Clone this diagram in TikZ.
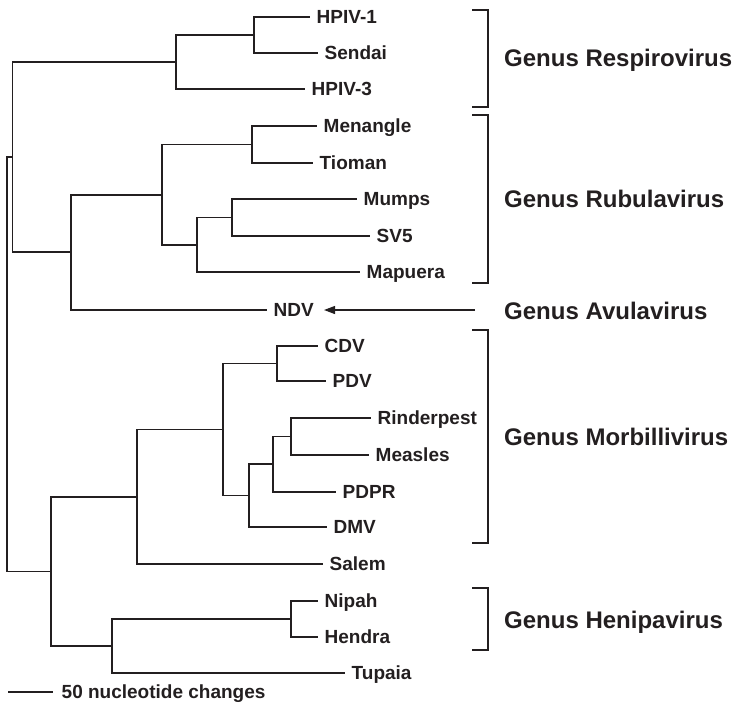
\documentclass[tikz,border=0pt]{standalone}
\usepackage{fontspec}
\setmainfont{Liberation Sans}
\usetikzlibrary{arrows.meta}
\definecolor{ink}{HTML}{231F20}
\begin{document}
\begin{tikzpicture}[x=1pt,y=-1pt,
  branch/.style={draw=ink,line width=1.2pt},
  clade/.style={draw=ink,line width=2pt},
  leaf/.style={anchor=west,inner xsep=6.5pt,inner ysep=0pt,
    text height=13.6pt,text depth=0pt,text=ink,
    font=\fontsize{19}{22}\selectfont\bfseries},
  genus/.style={anchor=west,inner sep=0pt,
    text height=17.2pt,text depth=0pt,text=ink,
    font=\fontsize{24}{28}\selectfont\bfseries},
]
\useasboundingbox (0,0) rectangle (736,705);

% ---- leaves (placed at the end of their branch) ----
\node[leaf] (hpiv1)   at (310,17)  {HPIV-1};
\node[leaf] (sendai)  at (318,53)  {Sendai};
\node[leaf] (hpiv3)   at (305,89)  {HPIV-3};
\node[leaf] (menang)  at (317,126) {Menangle};
\node[leaf] (tioman)  at (313,163) {Tioman};
\node[leaf] (mumps)   at (357,199) {Mumps};
\node[leaf] (sv5)     at (370,236) {SV5};
\node[leaf] (mapuera) at (360,272) {Mapuera};
\node[leaf] (ndv)     at (267,310) {NDV};
\node[leaf] (cdv)     at (318,346) {CDV};
\node[leaf] (pdv)     at (326,381) {PDV};
\node[leaf] (rinder)  at (371,418) {Rinderpest};
\node[leaf] (measles) at (369,455) {Measles};
\node[leaf] (pdpr)    at (336,492) {PDPR};
\node[leaf] (dmv)     at (327,527) {DMV};
\node[leaf] (salem)   at (323,564) {Salem};
\node[leaf] (nipah)   at (318,601) {Nipah};
\node[leaf] (hendra)  at (318,637) {Hendra};
\node[leaf] (tupaia)  at (345,673) {Tupaia};

% ---- internal nodes ----
\coordinate (hs)    at (254,35);
\coordinate (resp)  at (176,62);
\coordinate (mt)    at (252,144.5);
\coordinate (ms)    at (232,217.5);
\coordinate (msm)   at (197,245);
\coordinate (rub)   at (162,195);
\coordinate (rubn)  at (71,252);
\coordinate (upper) at (12.7,157);
\coordinate (cp)    at (277,363.5);
\coordinate (rm)    at (291,436.5);
\coordinate (rmp)   at (273,464);
\coordinate (rmpd)  at (249,495.5);
\coordinate (morb)  at (223,429.5);
\coordinate (morbs) at (137,497);
\coordinate (nh)    at (291,619);
\coordinate (nht)   at (112,646);
\coordinate (lower) at (51,571.5);
\coordinate (root)  at (7,364);

% ---- branches ----
\draw[branch] (hs) |- (hpiv1.west);
\draw[branch] (hs) |- (sendai.west);
\draw[branch] (resp) |- (hs);
\draw[branch] (resp) |- (hpiv3.west);
\draw[branch] (mt) |- (menang.west);
\draw[branch] (mt) |- (tioman.west);
\draw[branch] (ms) |- (mumps.west);
\draw[branch] (ms) |- (sv5.west);
\draw[branch] (msm) |- (ms);
\draw[branch] (msm) |- (mapuera.west);
\draw[branch] (rub) |- (mt);
\draw[branch] (rub) |- (msm);
\draw[branch] (rubn) |- (rub);
\draw[branch] (rubn) |- (ndv.west);
\draw[branch] (upper) |- (resp);
\draw[branch] (upper) |- (rubn);
\draw[branch] (cp) |- (cdv.west);
\draw[branch] (cp) |- (pdv.west);
\draw[branch] (rm) |- (rinder.west);
\draw[branch] (rm) |- (measles.west);
\draw[branch] (rmp) |- (rm);
\draw[branch] (rmp) |- (pdpr.west);
\draw[branch] (rmpd) |- (rmp);
\draw[branch] (rmpd) |- (dmv.west);
\draw[branch] (morb) |- (cp);
\draw[branch] (morb) |- (rmpd);
\draw[branch] (morbs) |- (morb);
\draw[branch] (morbs) |- (salem.west);
\draw[branch] (nh) |- (nipah.west);
\draw[branch] (nh) |- (hendra.west);
\draw[branch] (nht) |- (nh);
\draw[branch] (nht) |- (tupaia.west);
\draw[branch] (lower) |- (morbs);
\draw[branch] (lower) |- (nht);
\draw[branch] (root) |- (upper);
\draw[branch] (root) |- (lower);

% ---- scale bar ----
\coordinate (sbar) at (8,692);
\node[leaf,inner xsep=8.5pt] (scale) at (53,692) {50 nucleotide changes};
\draw[branch] (sbar) -- (scale.west);

% ---- genus brackets ----
\draw[clade] (472,10)  -| (488,107) -- (472,107);
\draw[clade] (472,115) -| (488,283) -- (472,283);
\draw[clade] (472,330) -| (488,543) -- (472,543);
\draw[clade] (472,588) -| (488,650) -- (472,650);

% ---- genus labels ----
\node[genus] (respiro) at (504,58)  {Genus Respirovirus};
\node[genus] (rubula)  at (504,199) {Genus Rubulavirus};
\node[genus] (avula)   at (504,311) {Genus Avulavirus};
\node[genus] (morbill) at (504,437) {Genus Morbillivirus};
\node[genus] (henipa)  at (504,620) {Genus Henipavirus};

% ---- pointer to NDV ----
\coordinate (avtail) at (475,310);
\draw[branch,-{Triangle[length=11pt,width=8pt]},shorten >=3.5pt] (avtail) -- (ndv.east);
\end{tikzpicture}
\end{document}
